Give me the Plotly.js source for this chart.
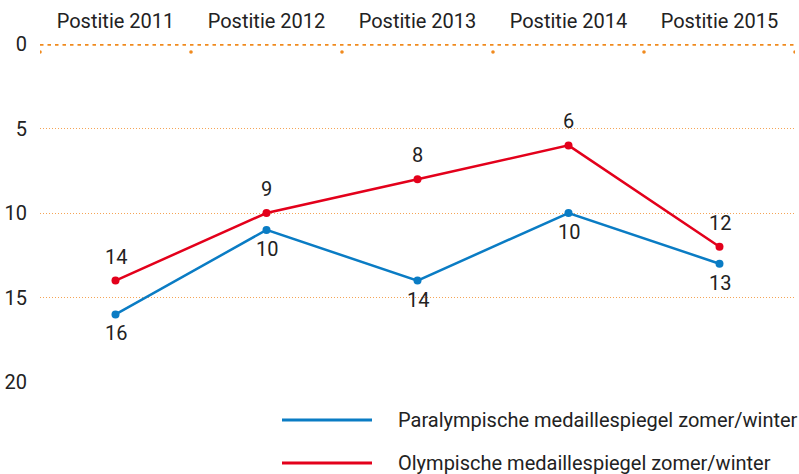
<!DOCTYPE html>
<html>
<head>
<meta charset="utf-8">
<script src="https://cdn.plot.ly/plotly-3.0.1.min.js"></script>
<style>html,body{margin:0;padding:0;background:#fff;}#chart{width:799px;height:474px;}</style>
</head>
<body>
<div id="chart"></div>
<script>
const categories = ['Postitie 2011', 'Postitie 2012', 'Postitie 2013', 'Postitie 2014', 'Postitie 2015'];
const paraValues = [16, 11, 14, 10, 13];
const paraLabels = ['16', '10', '14', '10', '13'];
const olyValues = [14, 10, 8, 6, 12];
const olyLabels = ['14', '9', '8', '6', '12'];
const seriesNames = ['Paralympische medaillespiegel zomer/winter', 'Olympische medaillespiegel zomer/winter'];
const yTicks = [0, 5, 10, 15, 20];

const BLUE = '#0a7cc4';
const RED = '#e3001b';
const ORANGE = '#f08a1e';
const GRID = '#f5a455';
const TEXT = '#222222';
const FONT = 'Roboto, "DejaVu Sans", sans-serif';
const FS = 20;
const FW = 400;

const W = 799, H = 474;
const M = {l: 40, r: 4, t: 44, b: 92};
const plotW = W - M.l - M.r, plotH = H - M.t - M.b;
const px2x = p => (p - M.l) / plotW;
const py2y = p => (H - M.b - p) / plotH;

const traces = [
  {x: categories, y: paraValues, name: seriesNames[0], type: 'scatter', mode: 'lines+markers',
   line: {color: BLUE, width: 2.5}, marker: {color: BLUE, size: 8}, cliponaxis: false, hoverinfo: 'x+y'},
  {x: categories, y: olyValues, name: seriesNames[1], type: 'scatter', mode: 'lines+markers',
   line: {color: RED, width: 2.5}, marker: {color: RED, size: 8}, cliponaxis: false, hoverinfo: 'x+y'}
];

const tf = {family: FONT, size: FS, color: TEXT, weight: FW};

const annotations = [];
categories.forEach((c, i) => {
  annotations.push({x: c, y: olyValues[i], xref: 'x', yref: 'y', text: olyLabels[i], showarrow: false,
    yshift: 24, font: tf});
  annotations.push({x: c, y: paraValues[i], xref: 'x', yref: 'y', text: paraLabels[i], showarrow: false,
    yshift: -19, font: tf});
});

const shapes = [];
// bold dotted zero line
shapes.push({type: 'line', xref: 'paper', yref: 'y', x0: 0, x1: 1, y0: 0, y1: 0,
  line: {color: ORANGE, width: 3.5, dash: '3.5px,4px'}, layer: 'above'});
// category boundary dots
for (let i = 0; i <= categories.length; i++) {
  shapes.push({type: 'circle', xref: 'x', yref: 'y', xsizemode: 'pixel', ysizemode: 'pixel',
    xanchor: i - 0.5, yanchor: 0, x0: -1.8, x1: 1.8, y0: -6.2, y1: -9.8,
    fillcolor: ORANGE, line: {width: 0}, layer: 'above'});
}

// manual legend
const legendRows = [{name: seriesNames[0], color: BLUE, py: 420}, {name: seriesNames[1], color: RED, py: 463}];
legendRows.forEach(r => {
  shapes.push({type: 'line', xref: 'paper', yref: 'paper', x0: px2x(282), x1: px2x(372),
    y0: py2y(r.py), y1: py2y(r.py), line: {color: r.color, width: 3}});
  annotations.push({xref: 'paper', yref: 'paper', x: px2x(396), y: py2y(r.py), xanchor: 'left', yanchor: 'middle',
    text: r.name, showarrow: false, font: tf});
});

const layout = {
  width: W, height: H,
  margin: M,
  paper_bgcolor: '#fff', plot_bgcolor: '#fff',
  showlegend: false,
  font: tf,
  xaxis: {type: 'category', side: 'top', range: [-0.5, categories.length - 0.5],
    showgrid: false, zeroline: false, showline: false, ticks: '',
    tickfont: tf, ticklabelstandoff: 11, fixedrange: true},
  yaxis: {range: [20, 0], tickvals: yTicks, ticktext: yTicks.map(String),
    showgrid: true, gridcolor: GRID, gridwidth: 1, griddash: '1px,2px',
    zeroline: false, showline: false, ticks: '', ticklabelstandoff: 12,
    tickfont: tf, fixedrange: true},
  shapes: shapes,
  annotations: annotations
};

Plotly.newPlot('chart', traces, layout, {displayModeBar: false, staticPlot: true});
</script>
</body>
</html>
